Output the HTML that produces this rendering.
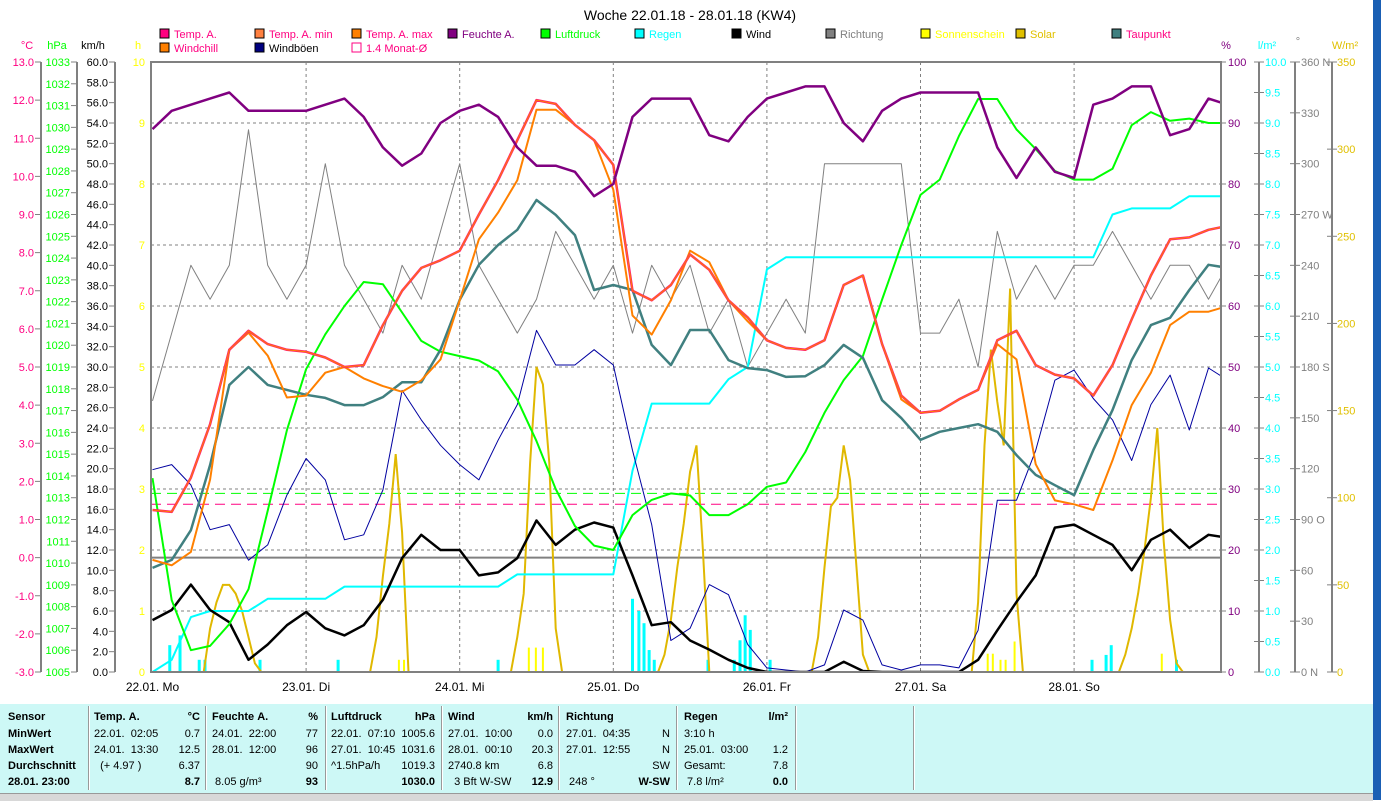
<!DOCTYPE html>
<html><head><meta charset="utf-8">
<style>
html,body{margin:0;padding:0;background:#fff;}
body{width:1381px;height:800px;position:relative;overflow:hidden;font-family:"Liberation Sans",sans-serif;}
#chart{position:absolute;left:0;top:0;}
.tbl{position:absolute;left:0;top:704px;width:1373px;height:89px;background:#cdf8f6;}
.status{position:absolute;left:0;top:793px;width:1373px;height:7px;background:#d8d8d8;border-top:1px solid #999;}
.desk{position:absolute;left:1373px;top:0;width:8px;height:800px;background:#1a5fb4;}
.t{position:absolute;font-size:11px;line-height:13px;color:#000;white-space:nowrap;}
.b{font-weight:bold;}
.r{text-align:right;}
.sep{position:absolute;top:706px;width:1px;height:84px;background:#999;border-right:1px solid #fff;}
</style></head>
<body>
<svg id="chart" width="1381" height="800" font-family="Liberation Sans, sans-serif"></svg>
<div class="tbl"></div>
<div class="status"></div>
<div class="desk"></div>
<div id="tbltext"></div>
<script>
// ---------- data (3-hour steps from 22.01. 00:00) ----------
const dayLabels = ["22.01.  Mo","23.01.  Di","24.01.  Mi","25.01.  Do","26.01.  Fr","27.01.  Sa","28.01.  So"];
const tempA = [1.25,1.2,2.1,3.5,5.45,5.95,5.6,5.45,5.4,5.25,5.0,5.05,6.1,7.0,7.6,7.8,8.05,9.0,9.9,10.95,12.0,11.9,11.35,10.95,10.3,7.0,6.75,7.15,7.95,7.55,6.75,6.3,5.7,5.5,5.45,5.7,7.15,7.4,5.6,4.25,3.8,3.85,4.15,4.4,5.7,5.95,5.05,4.8,4.7,4.25,5.05,6.25,7.4,8.35,8.4,8.6,8.7];
const windchill = [-0.06,-0.2,0.15,2.05,5.45,5.9,5.3,4.2,4.25,4.85,5.0,4.7,4.5,4.35,4.65,5.2,6.75,8.35,9.05,9.9,11.75,11.75,11.35,10.95,9.65,6.35,5.85,6.75,8.05,7.75,6.75,6.2,5.7,5.5,5.45,5.7,7.15,7.4,5.6,4.15,3.8,3.85,4.15,4.4,5.6,5.2,2.45,1.5,1.4,1.25,2.55,4.0,4.85,6.1,6.45,6.45,6.6];
const dewPoint = [-0.27,-0.06,0.72,2.43,4.53,5.0,4.53,4.4,4.27,4.19,4.0,4.0,4.21,4.6,4.6,5.45,6.76,7.68,8.2,8.6,9.38,8.99,8.46,7.02,7.15,7.02,5.58,5.05,5.97,5.97,5.18,4.97,4.92,4.74,4.76,5.05,5.58,5.24,4.13,3.66,3.09,3.3,3.4,3.5,3.3,2.69,2.17,1.9,1.64,2.82,3.87,5.18,6.1,6.29,7.02,7.68,7.6];
const humidity = [89,92,93,94,95,92,92,92,92,93,94,91,86,83,85,90,92,93,91,86,83,83,82,78,80,91,94,94,94,88,87,91,94,95,96,96,90,87,92,94,95,95,95,95,86,81,86,82,81,93,94,96,96,88,89,94,93];
const pressure = [1013.9,1008.3,1006.0,1006.2,1007.2,1008.8,1012.4,1016.1,1018.9,1020.5,1021.8,1022.9,1022.8,1021.5,1020.2,1019.7,1019.5,1019.3,1018.8,1017.5,1015.6,1013.4,1011.7,1010.8,1010.6,1012.2,1012.9,1013.2,1013.1,1012.2,1012.2,1012.7,1013.5,1013.7,1015.1,1016.9,1018.4,1019.5,1022.1,1024.6,1026.9,1027.6,1029.6,1031.3,1031.3,1029.9,1029.0,1028.0,1027.6,1027.6,1028.1,1030.1,1030.7,1030.3,1030.4,1030.2,1030.2];
const wind = [5.1,6.1,8.6,6.1,4.9,1.2,2.7,4.6,5.9,4.3,3.6,4.6,7.1,11.2,13.5,12.0,12.0,9.5,9.8,11.2,14.9,12.5,14.0,14.7,14.2,9.5,4.6,4.9,3.1,2.2,1.2,0.4,0,0,0,0,1.0,0.1,0,0,0,0,0,1.2,4.1,6.9,9.5,14.2,14.5,13.5,12.5,10.0,13.0,14.0,12.2,13.5,13.2];
const gusts = [19.9,20.4,18.4,14.0,14.5,11.0,12.5,17.4,21.0,18.9,13.0,13.5,17.9,27.7,24.8,22.3,20.4,18.9,22.8,26.3,33.6,30.2,30.2,31.7,30.2,21.8,14.5,3.1,4.3,8.6,7.6,2.7,0.4,0.2,0,0.7,6.1,5.1,0.7,0.2,0.7,0.7,0.4,4.1,16.9,16.9,21.8,28.7,29.7,26.9,24.8,20.8,26.3,29.2,23.8,29.9,28.7];
const rainSum = [0,0.2,0.9,1.0,1.0,1.0,1.2,1.2,1.2,1.2,1.4,1.4,1.4,1.4,1.4,1.4,1.4,1.4,1.4,1.6,1.6,1.6,1.6,1.6,1.6,3.3,4.4,4.4,4.4,4.4,4.8,5.0,6.6,6.8,6.8,6.8,6.8,6.8,6.8,6.8,6.8,6.8,6.8,6.8,6.8,6.8,6.8,6.8,6.8,6.8,7.5,7.6,7.6,7.6,7.8,7.8,7.8];
const direction = [160,200,240,220,240,320,240,220,240,300,240,220,200,240,220,260,300,240,220,200,220,260,240,220,240,200,240,220,240,200,220,180,200,220,200,300,300,300,300,300,200,200,220,180,260,220,240,220,240,240,260,240,220,240,240,220,240];
// rain per interval bars
const rainBarHours = [2.7,4.3,7.3,8.2,16.8,29,54,75,76,76.8,77.6,78.4,86.8,90.9,91.8,92.6,93.4,96.5,146.8,149,149.8,160];
const rainBarValues = [0.44,0.6,0.2,0.2,0.2,0.2,0.2,1.2,1.0,0.8,0.36,0.2,0.2,0.2,0.52,0.93,0.69,0.2,0.2,0.28,0.44,0.2];
// sunshine bars (h)
const sunHours = [38.5,39.3,58.8,59.9,61.0,130.5,131.3,132.5,133.3,134.7,157.7];
const sunValues = [0.2,0.2,0.4,0.4,0.4,0.3,0.3,0.2,0.2,0.5,0.3];
// solar W/m² per day, hours 06..18
const solar = [
 [0,0,0,25,40,50,50,45,35,20,5,0,0],
 [0,0,0,0,0,20,55,85,125,80,0,0,0],
 [0,0,0,20,45,120,175,165,120,25,0,0,0],
 [0,0,10,30,60,85,115,130,70,0,0,0,0],
 [0,0,20,60,95,100,130,110,60,10,0,0,0],
 [0,0,0,40,130,185,155,130,220,45,0,0,0],
 [0,0,10,25,45,70,100,140,75,30,5,0,0]
];
const tempMonthAvg = 1.4;
const pressureRef = 1013.2;
const cTicks = [13,12,11,10,9,8,7,6,5,4,3,2,1,0,-1,-2,-3];
const dirTickLabels = ["360 N","330","300","270 W","240","210","180 S","150","120","90 O","60","30","0 N"];

// ---------- scales ----------
const X0=152.5, HP=6.4, YB=672, YT=62, PH=610;
const xH=h=>X0+h*HP;
const yC=c=>YB-(c+3)*PH/16;
const yP=p=>YB-(p-1005)*PH/28;
const yK=k=>YB-k*PH/60;
const yPct=v=>YB-v*PH/100;
const yR=r=>YB-r*PH/10;
const yD=d=>YB-d*PH/360;
const yS=w=>YB-w*PH/350;
const yHr=h=>YB-h*PH/10;

const NS="http://www.w3.org/2000/svg";
const svg=document.getElementById('chart');
function el(tag,attrs,parent){const e=document.createElementNS(NS,tag);for(const k in attrs)e.setAttribute(k,attrs[k]);(parent||svg).appendChild(e);return e;}
function txt(x,y,s,color,anchor,size,parent){const t=el('text',{x:x,y:y,fill:color,'font-size':size||12,'text-anchor':anchor||'start'},parent);t.textContent=s;return t;}

// title
let tt=txt(690,20,"Woche 22.01.18 - 28.01.18 (KW4)","#000","middle",14);



// legend
const legend=[
 [160,38,"#ff0080","Temp. A.","#ff0080"],[255,38,"#ff8040","Temp. A. min","#ff0080"],[352,38,"#ff8000","Temp. A. max","#ff0080"],
 [448,38,"#800080","Feuchte A.","#800080"],[541,38,"#00ff00","Luftdruck","#00ff00"],[635,38,"#00ffff","Regen","#00ffff"],
 [732,38,"#000000","Wind","#000"],[826,38,"#808080","Richtung","#808080"],[921,38,"#ffff00","Sonnenschein","#ffff00"],
 [1016,38,"#e0c000","Solar","#e0c000"],[1112,38,"#408080","Taupunkt","#ff0080"],
 [160,52,"#ff8000","Windchill","#ff0080"],[255,52,"#000080","Windböen","#000"],[352,52,"none","1.4 Monat-Ø","#ff0080"]
];
legend.forEach(l=>{
 const g=el('g',{});
 
 
 el('rect',{x:l[0],y:l[1]-9,width:9,height:9,fill:l[2]==="none"?"none":l[2],stroke:l[2]==="none"?"#ff0080":"#000","stroke-width":1},g);
 txt(l[0]+14,l[1],l[3],l[4],"start",11,g);
});

// axes group
const ax=el('g',{stroke:"#808080","stroke-width":2,fill:"none"});


[41,77,115].forEach(x=>el('line',{x1:x,y1:YT,x2:x,y2:YB},ax));
[1259,1295,1332].forEach(x=>el('line',{x1:x,y1:YT,x2:x,y2:YB},ax));
// unit headers
txt(27,49,"°C","#ff0080","middle",11);txt(57,49,"hPa","#00ff00","middle",11);txt(93,49,"km/h","#000","middle",11);txt(138,49,"h","#ffff00","middle",11);
txt(1226,49,"%","#800080","middle",11);txt(1267,49,"l/m²","#00ffff","middle",11);txt(1298,45,"°","#808080","middle",11);txt(1345,49,"W/m²","#e0c000","middle",11);
// °C ticks
cTicks.forEach(c=>{el('line',{x1:35,y1:yC(c),x2:41,y2:yC(c),stroke:"#808080","stroke-width":1});txt(34,yC(c)+4,c.toFixed(1),"#ff0080","end",11);});
for(let p=1005;p<=1033;p++){el('line',{x1:71,y1:yP(p),x2:77,y2:yP(p),stroke:"#808080","stroke-width":1});txt(70,yP(p)+4,String(p),"#00ff00","end",11);}
for(let k=0;k<=60;k+=2){el('line',{x1:109,y1:yK(k),x2:115,y2:yK(k),stroke:"#808080","stroke-width":1});txt(108,yK(k)+4,k.toFixed(1),"#000","end",11);}
for(let h=0;h<=10;h++){txt(145,yHr(h)+4,String(h),"#ffff00","end",11);}
for(let v=0;v<=100;v+=10){el('line',{x1:1221,y1:yPct(v),x2:1226,y2:yPct(v),stroke:"#808080","stroke-width":1});txt(1228,yPct(v)+4,String(v),"#800080","start",11);}
for(let r=0;r<=10;r+=0.5){el('line',{x1:1254,y1:yR(r),x2:1264,y2:yR(r),stroke:"#808080","stroke-width":1});txt(1265,yR(r)+4,r.toFixed(1),"#00ffff","start",11);}
dirTickLabels.forEach((s,i)=>{const d=360-30*i;el('line',{x1:1290,y1:yD(d),x2:1300,y2:yD(d),stroke:"#808080","stroke-width":1});txt(1301,yD(d)+4,s,"#808080","start",11);});
for(let w=0;w<=350;w+=50){el('line',{x1:1327,y1:yS(w),x2:1337,y2:yS(w),stroke:"#808080","stroke-width":1});txt(1337,yS(w)+4,String(w),"#e0c000","start",11);}

// grid
const grid=el('g',{stroke:"#808080","stroke-width":1,"stroke-dasharray":"3,3"});


for(let g=1;g<10;g++)el('line',{x1:151,y1:yHr(g),x2:1221,y2:yHr(g)},grid);
for(let d=1;d<7;d++)el('line',{x1:xH(d*24),y1:YT,x2:xH(d*24),y2:YB},grid);
dayLabels.forEach((s,d)=>{const t=txt(xH(d*24),691,s,"#000","middle",12);});

// clip
const defs=el('defs',{});const cp=el('clipPath',{id:'pc'},defs);el('rect',{x:151,y:YT,width:1070,height:PH+1},cp);
const plot=el('g',{'clip-path':'url(#pc)'});


// zero line
el('line',{x1:151,y1:yC(0),x2:1221,y2:yC(0),stroke:"#808080","stroke-width":2},plot);
// reference dashed
el('line',{x1:151,y1:yP(pressureRef),x2:1221,y2:yP(pressureRef),stroke:"#00ff00","stroke-width":1,"stroke-dasharray":"10,6"},plot);
el('line',{x1:151,y1:yC(tempMonthAvg),x2:1221,y2:yC(tempMonthAvg),stroke:"#ff0080","stroke-width":1,"stroke-dasharray":"10,6"},plot);

function line(arr,yf,color,w,name){const pts=arr.map((v,i)=>xH(i*3).toFixed(1)+","+yf(v).toFixed(1)).join(" ");const p=el('polyline',{points:pts,fill:"none",stroke:color,"stroke-width":w,"stroke-linejoin":"round"},plot);return p;}
// rain bars
rainBarHours.forEach((h,i)=>{const r=el('rect',{x:xH(h)-1.5,y:yR(rainBarValues[i]),width:3,height:YB-yR(rainBarValues[i]),fill:"#00ffff"},plot);});
sunHours.forEach((h,i)=>{const r=el('rect',{x:xH(h)-1,y:yHr(sunValues[i]),width:2,height:YB-yHr(sunValues[i]),fill:"#ffff00"},plot);});
line(direction,yD,"#808080",1,"direction-line");
// solar
const sp=[];solar.forEach((day,d)=>day.forEach((w,j)=>sp.push(xH(d*24+6+j).toFixed(1)+","+yS(w).toFixed(1))));
const sl=el('polyline',{points:sp.join(" "),fill:"none",stroke:"#e0b800","stroke-width":2},plot);


line(rainSum,yR,"#00ffff",2,"rain-sum-line");
line(gusts,yK,"#0000a0",1,"gusts-line");
line(wind,yK,"#000",2.5,"wind-line");
line(pressure,yP,"#00ff00",2,"pressure-line");
line(dewPoint,yC,"#408080",2.5,"dewpoint-line");
line(windchill,yC,"#ff8000",2,"windchill-line");
line(tempA,yC,"#ff2070",2.5,"temperature-line");
line(tempA,yC,"#ff8000",1,"temperature-max-line");
line(humidity,yPct,"#800080",2.5,"humidity-line");
// plot border
el('rect',{x:151,y:YT,width:1070,height:PH,fill:"none",stroke:"#808080","stroke-width":2});

// ---------- table ----------
const T=document.getElementById('tbltext');
const cells=[
 [8,null,["Sensor","MinWert","MaxWert","Durchschnitt","28.01. 23:00"],true],
 [94,null,["Temp. A.","22.01.  02:05","24.01.  13:30","  (+ 4.97 )",""],false],
 [0,200,["°C","0.7","12.5","6.37","8.7"],false],
 [212,null,["Feuchte A.","24.01.  22:00","28.01.  12:00",""," 8.05 g/m³"],false],
 [0,318,["%","77","96","90","93"],false],
 [331,null,["Luftdruck","22.01.  07:10","27.01.  10:45","^1.5hPa/h",""],false],
 [0,435,["hPa","1005.6","1031.6","1019.3","1030.0"],false],
 [448,null,["Wind","27.01.  10:00","28.01.  00:10","2740.8 km","  3 Bft W-SW"],false],
 [0,553,["km/h","0.0","20.3","6.8","12.9"],false],
 [566,null,["Richtung","27.01.  04:35","27.01.  12:55",""," 248 °"],false],
 [0,670,["","N","N","SW","W-SW"],false],
 [684,null,["Regen","3:10 h","25.01.  03:00","Gesamt:"," 7.8 l/m²"],false],
 [0,788,["l/m²","","1.2","7.8","0.0"],false]
];
const rowY=[711,728,744,760,776];
cells.forEach(c=>{c[2].forEach((s,i)=>{if(!s)return;const d=document.createElement('div');d.className='t';
 const bold=(i===0)||c[3]||(i===4&&c[1]!==null);
 if(bold)d.classList.add('b');
 if(c[1]!==null){d.style.right=(1381-c[1])+'px';}else{d.style.left=c[0]+'px';}
 d.style.top=rowY[i]+'px';d.textContent=s.replace(/ /g,'\u00a0');
 
 
 T.appendChild(d);});});
[88,205,325,441,558,676,795,913].forEach(x=>{const s=document.createElement('div');s.className='sep';s.style.left=x+'px';
 
 
 T.appendChild(s);});
</script>
</body></html>
